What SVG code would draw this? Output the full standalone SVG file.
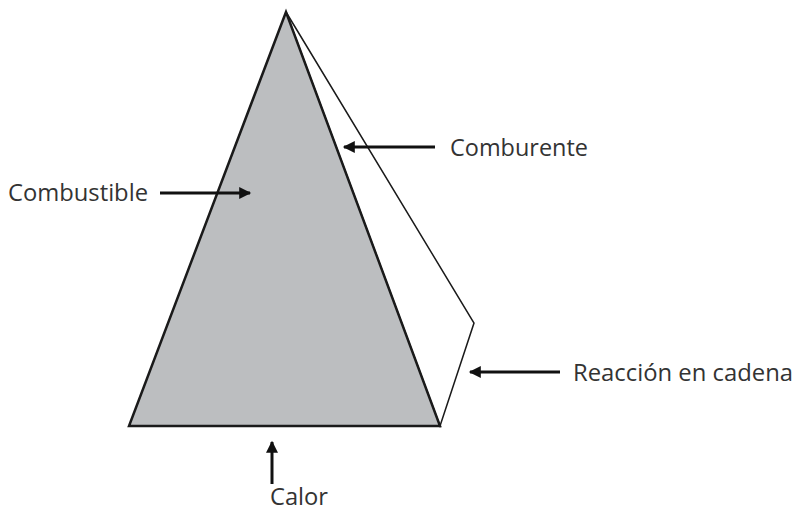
<svg xmlns="http://www.w3.org/2000/svg" width="795" height="514" viewBox="0 0 795 514">
<style>
.lbl{font-family:"Open Sans","DejaVu Sans",sans-serif;font-size:23px;fill:#333}
.arr{stroke:#111;stroke-width:3;fill:none}
</style>
<defs>
<marker id="ah" viewBox="0 0 10 10" refX="9" refY="5" markerWidth="4.3" markerHeight="4" orient="auto" markerUnits="strokeWidth">
<path d="M0,0 L10,5 L0,10 z" fill="#111"/>
</marker>
</defs>
<rect width="795" height="514" fill="#fff"/>
<g id="pyramid">
<polygon points="286,12 474,323 440,426" fill="#fff" stroke="#1a1a1a" stroke-width="1.5"/>
<polygon points="286,12 129,426 440,426" fill="#bcbec0" stroke="#1a1a1a" stroke-width="2.5"/>
</g>
<g id="connectors">
<line class="arr" x1="160" y1="193" x2="250" y2="193" marker-end="url(#ah)"/>
<line class="arr" x1="435" y1="147" x2="344" y2="147" marker-end="url(#ah)"/>
<line class="arr" x1="560" y1="372" x2="470" y2="372" marker-end="url(#ah)"/>
<line class="arr" x1="272" y1="484" x2="272" y2="442" marker-end="url(#ah)"/>
</g>
<g id="combustible"><text class="lbl" x="8" y="201" textLength="140" lengthAdjust="spacingAndGlyphs">Combustible</text></g>
<g id="comburente"><text class="lbl" x="450" y="156" textLength="138" lengthAdjust="spacingAndGlyphs">Comburente</text></g>
<g id="reaccion"><text class="lbl" x="573" y="381" textLength="220" lengthAdjust="spacingAndGlyphs">Reacción en cadena</text></g>
<g id="calor"><text class="lbl" x="270" y="505" textLength="58" lengthAdjust="spacingAndGlyphs">Calor</text></g>
</svg>
